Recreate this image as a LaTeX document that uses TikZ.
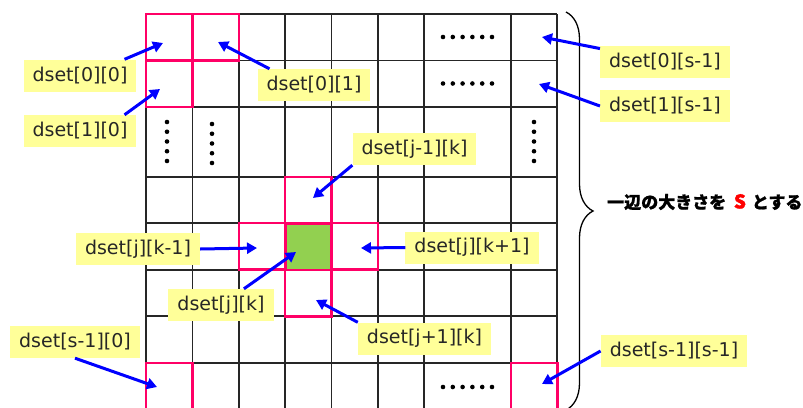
\documentclass[tikz,border=0pt]{standalone}
\usepackage{fontspec}
\setmainfont{DejaVu Sans}
\newfontfamily\jpfont{Noto Sans CJK JP}[BoldFeatures={FakeBold=1.2}]
\usetikzlibrary{arrows.meta,decorations.pathreplacing}
\definecolor{dsyellow}{HTML}{FFFF99}
\definecolor{dsred}{HTML}{FF0066}
\definecolor{dsgreen}{HTML}{92D050}
\definecolor{dsblue}{HTML}{0000FF}

\begin{document}
\begin{tikzpicture}[x=1pt, y=-1pt,
            gridline/.style={line width=1.5pt, black!85},
            cellbox/.style={line width=2.5pt, dsred},
            dlabel/.style={fill=dsyellow, font=\fontsize{19}{22}\selectfont, text=black!85, inner xsep=9pt, minimum height=32pt},
            arrow/.style={-{Triangle[length=10pt, width=11pt]}, line width=3pt, dsblue},
            dot/.style={black}
        ]
            \useasboundingbox (0,0) rectangle (803,407);
            \clip (0,0) rectangle (803,407);

            % Center cell
            \fill[dsgreen] (285,223) rectangle (331.5,270);

            % Grid
            \foreach \x in {146,192.5,239,285,331.5,378,424,511,557}
                \draw[gridline] (\x,14) -- (\x,420);
            \foreach \y in {14,60.5,107,177,223,270,316,363}
                \draw[gridline] (146,\y) -- (557,\y);

            % Highlighted cells
            \foreach \x/\y in {146/14, 192.5/14, 146/60.5, 285/177, 239/223, 331.5/223, 285/270, 146/363, 511/363}
                \draw[cellbox] (\x,\y) rectangle ++(46.5,46.5);

            % Ellipsis dots
            \foreach \y in {37,83.5,387}
                \foreach \i in {0,...,5}
                    \fill[dot] (443+9.8*\i,\y) circle (2.3pt);
            \foreach \x/\y in {167/122, 212/124, 534/122}
                \foreach \i in {0,...,4}
                    \fill[dot] (\x,\y+9.75*\i) circle (2.3pt);

            % Size brace
            \draw[line width=1.3pt, decorate, decoration={brace, amplitude=27pt}] (566,12) -- (566,410);
            \node[font=\jpfont\bfseries\fontsize{17}{19}\selectfont, anchor=west, inner xsep=0pt] (side) at (607,202)
                {一辺の大きさを\hspace{0.45em}{\color{red}\fontsize{19}{19}\selectfont S}\hspace{0.35em}とする};

            % Labels
            \node[dlabel] (l00) at (80,75.5) {dset[0][0]};
            \node[dlabel] (l10) at (80,131) {dset[1][0]};
            \node[dlabel] (l01) at (314,85) {dset[0][1]};
            \node[dlabel] (ljm1) at (414.5,149) {dset[j-1][k]};
            \node[dlabel] (l0s) at (665,61.5) {dset[0][s-1]};
            \node[dlabel] (l1s) at (665,106) {dset[1][s-1]};
            \node[dlabel] (ljkm) at (138,249) {dset[j][k-1]};
            \node[dlabel] (ljkp) at (472,247.5) {dset[j][k+1]};
            \node[dlabel] (ljk) at (221,305) {dset[j][k]};
            \node[dlabel] (ljp1) at (424.5,338.5) {dset[j+1][k]};
            \node[dlabel] (ls0) at (75,342) {dset[s-1][0]};
            \node[dlabel] (lss) at (674,351) {dset[s-1][s-1]};

            % Arrow tips
            \coordinate (t00) at (163,43);
            \coordinate (t10) at (160,89);
            \coordinate (t01) at (218,42);
            \coordinate (tjm1) at (313,198);
            \coordinate (t0s) at (542,37);
            \coordinate (t1s) at (539,84);
            \coordinate (tjkm) at (257,248);
            \coordinate (tjkp) at (361,248);
            \coordinate (tjk) at (296,252);
            \coordinate (tjp1) at (316,300);
            \coordinate (ts0) at (157,387);
            \coordinate (tss) at (542,384);

            % Arrows
            \draw[arrow] (l00.20) -- (t00);
            \draw[arrow] (l10.20) -- (t10);
            \draw[arrow] (l01.160) -- (t01);
            \draw[arrow] (ljm1.south west) -- (tjm1);
            \draw[arrow] (l0s) -- (t0s);
            \draw[arrow] (l1s.west) -- (t1s);
            \draw[arrow] (ljkm.east) -- (tjkm);
            \draw[arrow] (ljkp.west) -- (tjkp);
            \draw[arrow] (ljk) -- (tjk);
            \draw[arrow] (ljp1.north west) -- (tjp1);
            \draw[arrow] (ls0.south) -- (ts0);
            \draw[arrow] (lss.west) -- (tss);
        \end{tikzpicture}
\end{document}
